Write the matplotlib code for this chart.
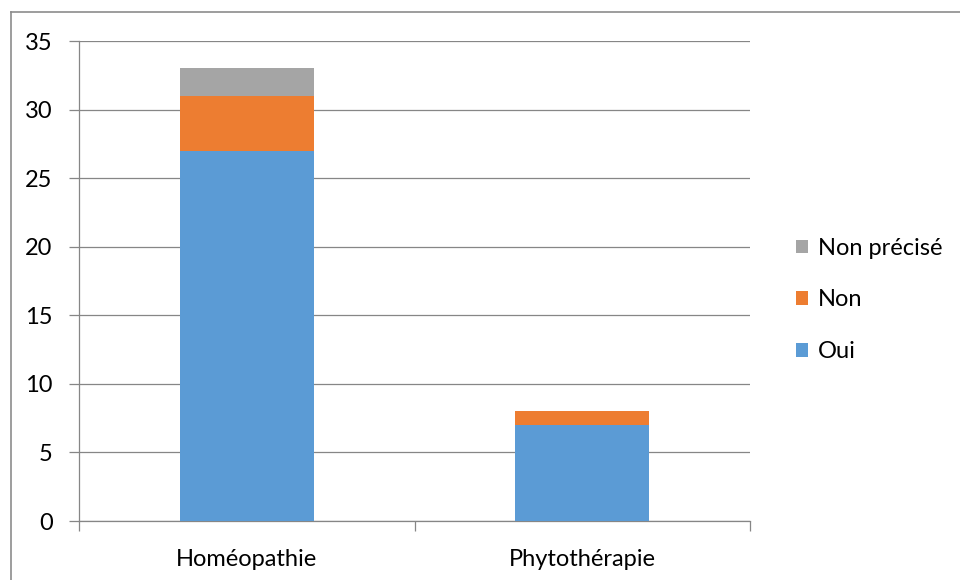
import matplotlib
matplotlib.use("Agg")
import matplotlib.pyplot as plt
from matplotlib.lines import Line2D
import numpy as np

categories = ["Homéopathie", "Phytothérapie"]
oui = [27, 7]
non = [4, 1]
non_precise = [2, 0]
series_names = ["Oui", "Non", "Non précisé"]
colors = ["#5B9BD5", "#ED7D31", "#A5A5A5"]
yticks = [0, 5, 10, 15, 20, 25, 30, 35]

plt.rcParams['font.family'] = ['Lato', 'DejaVu Sans']
FS = 17

fig = plt.figure(figsize=(9.6, 5.8), dpi=100)
ax = fig.add_axes([79/960, 1-521/580, (750-79)/960, (521-41)/580])

x = np.arange(len(categories))
w = 0.4
bottom = np.zeros(len(categories))
handles = []
for vals, name, c in zip([oui, non, non_precise], series_names, colors):
    b = ax.bar(x, vals, w, bottom=bottom, color=c, label=name, zorder=3)
    bottom = bottom + np.array(vals)
    handles.append(b)

ax.set_xlim(-0.5, 1.5)
ax.set_ylim(0, 35)
ax.set_yticks(yticks)
ax.set_yticklabels([str(v) for v in yticks], fontsize=FS)
ax.yaxis.grid(True, color="#868686", linewidth=0.9, zorder=0)
ax.set_axisbelow(True)

for s in ["top", "right"]:
    ax.spines[s].set_visible(False)
for s in ["left", "bottom"]:
    ax.spines[s].set_color("#868686")
    ax.spines[s].set_linewidth(0.9)

ax.tick_params(axis="y", length=7, width=0.9, color="#868686", pad=12)
ax.set_xticks([-0.5, 0.5, 1.5])
ax.set_xticklabels([])
ax.set_xticks(x, minor=True)
ax.set_xticklabels(categories, minor=True, fontsize=FS)
ax.tick_params(axis="x", which="major", length=7, width=0.9, color="#868686")
ax.tick_params(axis="x", which="minor", length=0, pad=20)

leg = fig.legend(handles[::-1], series_names[::-1], loc="center left",
                 bbox_to_anchor=(775/960, 1-300/580), frameon=False,
                 fontsize=FS, handlelength=0.5, handleheight=0.5,
                 handletextpad=0.4, labelspacing=1.3)

fig.add_artist(Line2D([11/960, 11/960], [-0.1, 1-11.5/580], color="#8c8c8c", lw=1.2, transform=fig.transFigure))
fig.add_artist(Line2D([11/960, 1.1], [1-11.5/580, 1-11.5/580], color="#8c8c8c", lw=1.2, transform=fig.transFigure))

fig.savefig("out.png", dpi=100)
